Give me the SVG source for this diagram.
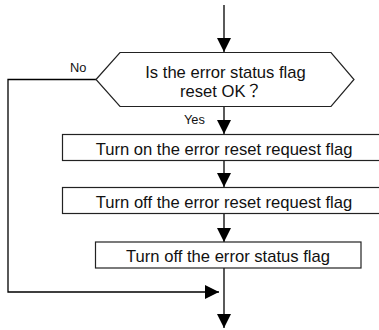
<svg xmlns="http://www.w3.org/2000/svg" width="379" height="330" viewBox="0 0 379 330">
<style>
.node{fill:#fff;stroke:#222;stroke-width:1.2}
.t{font-family:"Liberation Sans","Noto Sans CJK JP",Arial,sans-serif;font-size:16.6px;fill:#111}
.s{font-family:"Liberation Sans",Arial,sans-serif;font-size:12.8px;fill:#111}
.c{fill:none;stroke:#000;stroke-width:1.3}
</style>
<defs>
<marker id="ah" markerUnits="userSpaceOnUse" markerWidth="14" markerHeight="14" viewBox="0 0 14 14" refX="14" refY="7" orient="auto">
<path d="M0,0 L14,7 L0,14 Z" fill="#000"/>
</marker>
</defs>
<g id="connectors">
<line class="c" x1="224" y1="5" x2="224" y2="52" marker-end="url(#ah)"/>
<line class="c" x1="224" y1="107" x2="224" y2="134" marker-end="url(#ah)"/>
<line class="c" x1="224" y1="160" x2="224" y2="187" marker-end="url(#ah)"/>
<line class="c" x1="224" y1="213" x2="224" y2="242" marker-end="url(#ah)"/>
<line class="c" x1="224" y1="268" x2="224" y2="328" marker-end="url(#ah)"/>
<polyline class="c" points="96,79.5 8,79.5 8,292 219,292" marker-end="url(#ah)"/>
<text class="s" x="70" y="71.5">No</text>
<text class="s" x="184" y="123.5">Yes</text>
</g>
<g id="decision">
<polygon class="node" points="96,79.5 120,52.5 331,52.5 354,79.5 331,106.5 120,106.5"/>
<text class="t" x="225.5" y="77.5" text-anchor="middle">Is the error status flag</text>
<text class="t" x="180" y="96.5">reset OK？</text>
</g>
<g id="box1">
<rect class="node" x="62.5" y="134.5" width="324" height="26"/>
<text class="t" x="224" y="155" text-anchor="middle">Turn on the error reset request flag</text>
</g>
<g id="box2">
<rect class="node" x="62.5" y="187.5" width="324" height="26"/>
<text class="t" x="224" y="208" text-anchor="middle">Turn off the error reset request flag</text>
</g>
<g id="box3">
<rect class="node" x="95.5" y="242" width="265.5" height="26"/>
<text class="t" x="228" y="262" text-anchor="middle">Turn off the error status flag</text>
</g>
</svg>
